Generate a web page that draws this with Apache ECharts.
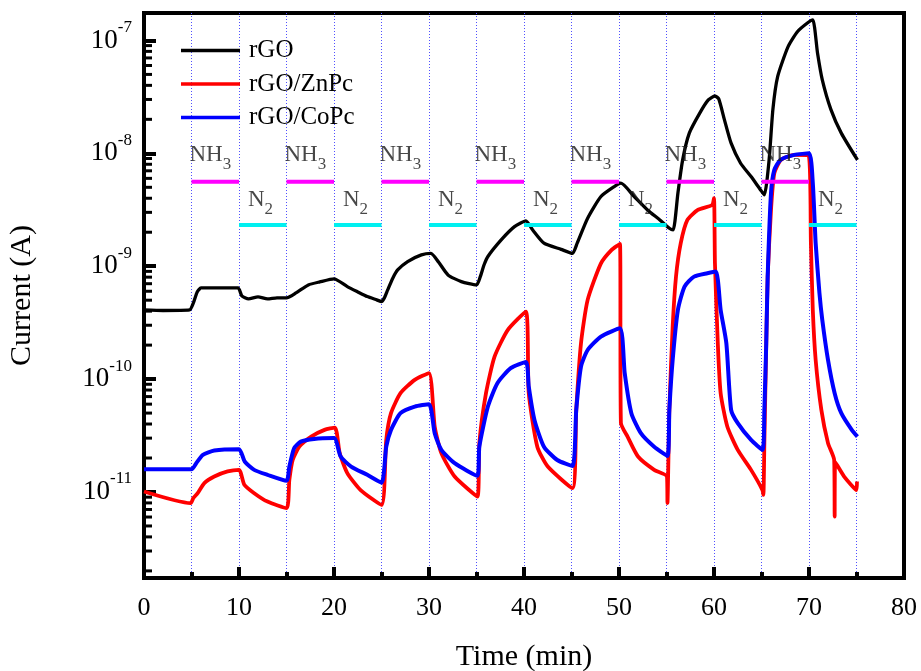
<!DOCTYPE html>
<html>
<head>
<meta charset="utf-8">
<script src="https://cdn.jsdelivr.net/npm/echarts@6/dist/echarts.min.js"></script>
<style>
  html, body { margin: 0; padding: 0; background: #fff; }
  #chart { width: 921px; height: 671px; }
</style>
</head>
<body>
<div id="chart"></div>
<script>
// Sensor current vs. time, [minutes, amperes]
const rgoPoints = [
  [0,4.10e-10],[2,4.05e-10],[4.8,4.10e-10],[5.2,4.73e-10],[5.6,5.92e-10],[6,6.42e-10],[8,6.42e-10],[9.9,6.42e-10],
  [10.3,5.46e-10],[11,5.13e-10],[12,5.35e-10],[13,5.13e-10],[14,5.24e-10],[15,5.24e-10],[16,5.80e-10],[17.3,6.83e-10],
  [18.5,7.26e-10],[20,7.72e-10],[21.4,6.60e-10],[22.5,5.92e-10],[23.5,5.38e-10],[24.5,5.03e-10],[25,4.86e-10],
  [25.3,5.24e-10],[25.65,6.17e-10],[26.2,7.88e-10],[26.7,9.27e-10],[27.75,1.10e-9],[29.2,1.26e-9],[30.2,1.30e-9],
  [31,1.09e-9],[32,8.37e-10],[33.4,7.30e-10],[35,6.83e-10],[35.4,8.09e-10],[35.8,1.03e-9],[36.2,1.22e-9],[37.6,1.71e-9],
  [39,2.24e-9],[40.2,2.52e-9],[40.9,2.10e-9],[42.1,1.60e-9],[43.9,1.41e-9],[45.1,1.30e-9],[45.6,1.60e-9],[46.7,2.66e-9],
  [48.1,4.14e-9],[49.5,5.07e-9],[50.2,5.44e-9],[51.6,4.14e-9],[53,3.15e-9],[54.3,2.57e-9],[55.3,2.17e-9],[55.7,2.10e-9],
  [56.2,4.43e-9],[56.7,8.74e-9],[57.4,1.51e-8],[58.5,2.27e-8],[59.4,2.97e-8],[60.1,3.22e-8],[60.5,3.03e-8],[61.1,1.98e-8],
  [61.8,1.23e-8],[62.8,8.17e-9],[63.9,6.22e-9],[64.9,4.74e-9],[65.3,4.28e-9],[65.8,8.74e-9],[66.2,2.45e-8],[66.7,4.78e-8],
  [67.8,8.81e-8],[68.8,1.20e-7],[69.9,1.44e-7],[70.4,1.52e-7],[70.9,7.70e-8],[71.4,4.47e-8],[72.3,2.45e-8],[73.4,1.51e-8],
  [75.1,8.74e-9]
];
const znpcPoints = [
  [0,1.01e-11],[4.9,7.96e-12],[5.2,8.86e-12],[5.65,9.76e-12],[6.35,1.20e-11],[7.4,1.37e-11],[8.8,1.52e-11],[10,1.57e-11],
  [10.56,1.16e-11],[11.6,9.76e-12],[13,8.22e-12],[15,7.19e-12],[15.3,1.28e-11],[15.65,1.92e-11],[16.35,2.52e-11],
  [17.6,3.09e-11],[19,3.55e-11],[20.1,3.72e-11],[20.6,2.21e-11],[21.4,1.47e-11],[22.8,1.04e-11],[25,7.69e-12],
  [25.5,2.89e-11],[26,4.99e-11],[27,7.50e-11],[28.5,9.84e-11],[30,1.13e-10],[30.6,3.80e-11],[31.3,2.21e-11],
  [32.7,1.37e-11],[35.1,9.11e-12],[35.3,2.71e-11],[36,7.50e-11],[36.9,1.58e-10],[38.3,2.73e-10],[40.2,3.96e-10],
  [40.5,7.50e-11],[41.4,2.52e-11],[42.5,1.68e-11],[45.1,1.08e-11],[45.5,5.34e-11],[46,2.08e-10],[46.7,5.03e-10],
  [48.1,1.06e-9],[49.2,1.39e-9],[50.1,1.58e-9],[50.2,4.09e-11],[50.9,3.09e-11],[52,2.06e-11],[53.7,1.57e-11],
  [55.05,1.37e-11],[55.1,7.96e-12],[55.3,5.34e-11],[55.65,2.92e-10],[56,8.09e-10],[56.5,1.60e-9],[57.2,2.57e-9],
  [58.3,3.15e-9],[59.8,3.49e-9],[60,4.00e-9],[60.1,1.06e-9],[60.4,2.08e-10],[60.7,7.50e-11],[61.4,3.80e-11],
  [62.5,2.36e-11],[63.9,1.57e-11],[65.1,1.04e-11],[65.2,9.43e-12],[65.3,2.71e-11],[65.5,2.08e-10],[65.65,8.09e-10],
  [66,3.15e-9],[66.35,6.66e-9],[67.05,8.74e-9],[68.45,9.68e-9],[70,9.35e-9],[70.2,1.60e-9],[70.4,4.10e-10],
  [70.7,1.48e-10],[71.3,5.34e-11],[72,2.71e-11],[72.65,1.92e-11],[72.7,6.06e-12],[72.75,1.85e-11],[73.7,1.37e-11],
  [75,1.04e-11],[75.05,1.24e-11]
];
const copcPoints = [
  [0,1.59e-11],[5,1.59e-11],[5.5,1.80e-11],[6.2,2.13e-11],[7.4,2.33e-11],[10,2.39e-11],[10.6,1.86e-11],[11.6,1.57e-11],
  [13,1.42e-11],[15,1.26e-11],[15.3,1.68e-11],[15.8,2.44e-11],[16.5,2.79e-11],[17.9,2.95e-11],[20,3.00e-11],
  [20.7,2.06e-11],[21.8,1.68e-11],[23.5,1.42e-11],[25,1.21e-11],[25.5,2.52e-11],[26,3.55e-11],[27,4.99e-11],
  [28.5,5.71e-11],[30,6.00e-11],[30.6,3.32e-11],[31.3,2.36e-11],[32.7,1.80e-11],[35.1,1.39e-11],[35.3,2.52e-11],
  [36.2,5.71e-11],[37.2,9.20e-11],[38.6,1.25e-10],[40.2,1.42e-10],[40.5,8.58e-11],[41.1,4.35e-11],[42.1,2.52e-11],
  [43.5,1.92e-11],[45.1,1.70e-11],[45.5,5.34e-11],[46,1.29e-10],[46.7,1.81e-10],[48.1,2.38e-10],[50.1,2.82e-10],
  [50.6,1.13e-10],[51.3,4.99e-11],[52.3,3.32e-11],[53.7,2.52e-11],[55.1,2.09e-11],[55.3,5.34e-11],[55.65,1.48e-10],
  [56.2,4.10e-10],[56.9,6.60e-10],[57.9,8.09e-10],[59.3,8.67e-10],[60.2,8.96e-10],[60.7,4.10e-10],[61.3,2.08e-10],
  [61.8,5.34e-11],[62.5,4.07e-11],[63.9,2.89e-11],[65.1,2.36e-11],[65.3,5.34e-11],[65.5,2.08e-10],[65.65,8.09e-10],
  [66,4.43e-9],[66.35,7.13e-9],[67,8.74e-9],[68.45,9.68e-9],[70,1.0e-8],[70.4,5.44e-9],[70.7,1.60e-9],[71.1,5.77e-10],
  [71.4,3.34e-10],[72,1.48e-10],[72.7,7.50e-11],[73.4,4.99e-11],[74.5,3.55e-11],[75.1,3.09e-11]
];

// Gas exposure periods (start minute, each lasting 5 min) and the level their markers sit at
const nh3Starts = [5, 15, 25, 35, 45, 55, 65];
const n2Starts = [10, 20, 30, 40, 50, 60, 70];
const periodLength = 5;
const nh3Level = 5.6e-9;
const n2Level = 2.32e-9;

// Axis settings
const xTicks = { min: 0, max: 80, interval: 10 };
const yRange = { min: 1.73e-12, max: 1.75e-7 };
const minorTickValues = [];
for (let e = -12; e <= -8; e++) {
  for (let k = 2; k <= 9; k++) {
    const v = k * Math.pow(10, e);
    if (v > yRange.min && v < yRange.max) minorTickValues.push(v);
  }
}

const FONT = 'Liberation Serif';

function segments(starts, level) {
  const out = [];
  starts.forEach(s => { out.push([s, level], [s + periodLength, level], [s + periodLength, '-']); });
  return out;
}

const chart = echarts.init(document.getElementById('chart'), null, { renderer: 'canvas' });

const dotted = { color: '#5050ff', width: 1, type: [1, 2] };
const curveSmooth = 0.2;

chart.setOption({
  backgroundColor: '#fff',
  animation: false,
  grid: {
    left: 144, right: 17, top: 13, bottom: 93, outerBoundsMode: 'none',
    show: true, borderColor: '#000', borderWidth: 4, backgroundColor: 'transparent'
  },
  legend: {
    data: ['rGO', 'rGO/ZnPc', 'rGO/CoPc'],
    orient: 'vertical', left: 181, top: 38, padding: 0,
    icon: 'rect', itemWidth: 59, itemHeight: 3.5, itemGap: 8.5,
    textStyle: { fontFamily: FONT, fontSize: 25, color: '#000', padding: [0, 0, 0, 4] }
  },
  xAxis: {
    type: 'value', min: xTicks.min, max: xTicks.max, interval: xTicks.interval,
    name: 'Time (min)', nameLocation: 'middle', nameGap: 64,
    nameTextStyle: { fontFamily: FONT, fontSize: 30, color: '#000' },
    axisLine: { show: true, lineStyle: { color: '#000', width: 4 } },
    axisTick: { show: true, inside: true, length: 11, lineStyle: { color: '#000', width: 4 } },
    minorTick: { show: true, splitNumber: 2, length: 6, lineStyle: { color: '#000', width: 4 } },
    splitLine: { show: true, showMinLine: false, showMaxLine: false, lineStyle: dotted },
    minorSplitLine: { show: true, lineStyle: dotted },
    axisLabel: { fontFamily: FONT, fontSize: 26, color: '#000', margin: 17 }
  },
  yAxis: {
    type: 'log', logBase: 10, min: yRange.min, max: yRange.max,
    name: 'Current (A)', nameLocation: 'middle', nameGap: 107,
    nameTextStyle: { fontFamily: FONT, fontSize: 30, color: '#000' },
    axisLine: { show: true, lineStyle: { color: '#000', width: 4 } },
    axisTick: { show: true, inside: true, length: 12, lineStyle: { color: '#000', width: 4 } },
    splitLine: { show: false },
    axisLabel: {
      margin: 12, showMinLabel: false, showMaxLabel: false,
      formatter: v => {
        const e = Math.log10(v);
        const r = Math.round(e);
        return Math.abs(e - r) < 1e-6 ? '{b|10}{s|' + r + '}' : '';
      },
      rich: {
        b: { fontFamily: FONT, fontSize: 27, color: '#000' },
        s: { fontFamily: FONT, fontSize: 17, color: '#000', padding: [0, 0, 26, 0] }
      }
    }
  },
  series: [
    { name: 'rGO', type: 'line', data: rgoPoints, symbol: 'none', smooth: curveSmooth, color: '#000',
      lineStyle: { width: 3.3, color: '#000' }, z: 2 },
    { name: 'rGO/ZnPc', type: 'line', data: znpcPoints, symbol: 'none', smooth: curveSmooth, color: '#ff0000',
      lineStyle: { width: 3.8, color: '#ff0000' }, z: 2 },
    { name: 'rGO/CoPc', type: 'line', data: copcPoints, symbol: 'none', smooth: curveSmooth, color: '#0000ff',
      lineStyle: { width: 4, color: '#0000ff' }, z: 2 },
    { name: 'NH3 periods', type: 'line', data: segments(nh3Starts, nh3Level), symbol: 'none', silent: true,
      lineStyle: { width: 4, color: '#ff00ff' }, z: 4 },
    { name: 'N2 periods', type: 'line', data: segments(n2Starts, n2Level), symbol: 'none', silent: true,
      lineStyle: { width: 4, color: '#00f0f0' }, z: 4 },
    { name: 'NH3 labels', type: 'scatter', data: nh3Starts.map(s => [s, nh3Level]), symbolSize: 0, silent: true, z: 5,
      label: { show: true, position: [0, 0], align: 'left', verticalAlign: 'middle', offset: [-2, -27],
        formatter: '{a|NH}{b|3}',
        rich: { a: { fontFamily: FONT, fontSize: 23, color: '#1a1a1a' }, b: { fontFamily: FONT, fontSize: 17, color: '#1a1a1a', padding: [20, 0, 0, 0] } } } },
    { name: 'N2 labels', type: 'scatter', data: n2Starts.map(s => [s, n2Level]), symbolSize: 0, silent: true, z: 5,
      label: { show: true, position: [0, 0], align: 'left', verticalAlign: 'middle', offset: [9, -25],
        formatter: '{a|N}{b|2}',
        rich: { a: { fontFamily: FONT, fontSize: 23, color: '#1a1a1a' }, b: { fontFamily: FONT, fontSize: 17, color: '#1a1a1a', padding: [20, 0, 0, 0] } } } },
    { name: 'y minor ticks', type: 'custom', silent: true, z: 6, clip: false,
      data: minorTickValues.map(v => [0, v]),
      renderItem: (params, api) => {
        const p = api.coord([0, api.value(1)]);
        return { type: 'line', shape: { x1: p[0], y1: p[1], x2: p[0] + 8, y2: p[1] }, style: { stroke: '#000', lineWidth: 3 } };
      } }
  ]
});
</script>
</body>
</html>
